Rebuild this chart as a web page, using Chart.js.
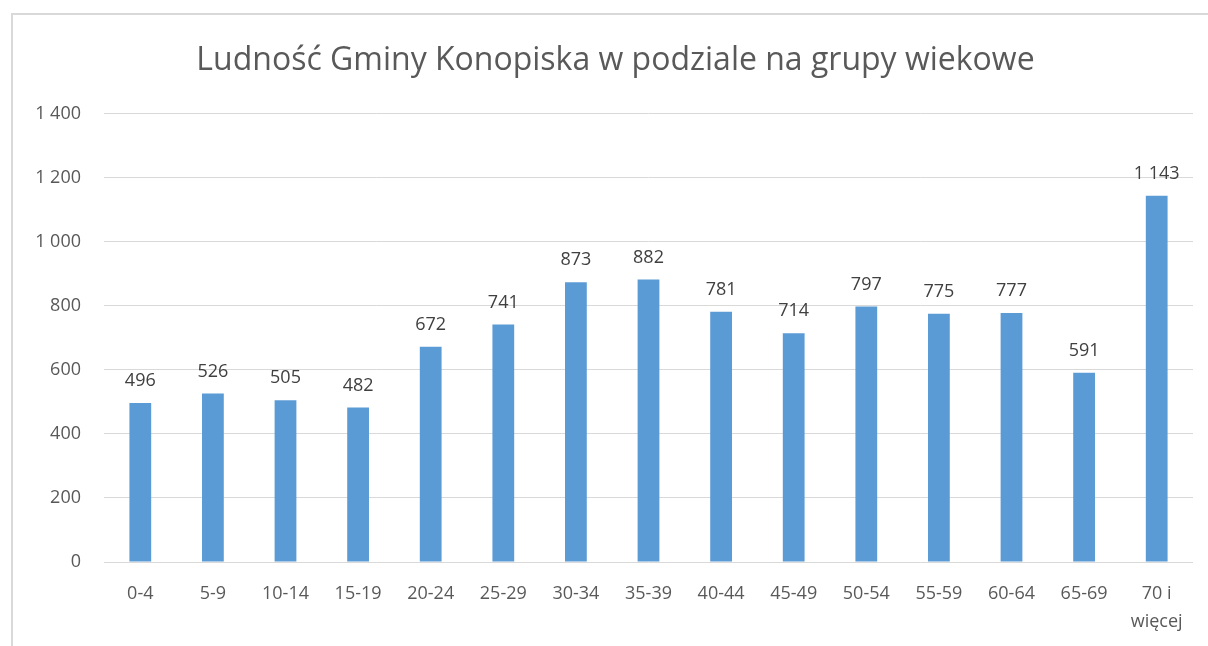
<!DOCTYPE html>
<html>
<head>
<meta charset="utf-8">
<script src="https://cdn.jsdelivr.net/npm/chart.js@4/dist/chart.umd.min.js"></script>
<style>
    html, body { margin: 0; padding: 0; background: #fff; overflow: hidden; }
    #frame { position: absolute; left: 11px; top: 13px; width: 1300px; height: 700px; border: 2px solid #d9d9d9; }
    #wrap { position: absolute; left: 0; top: 0; width: 1208px; height: 646px; }
</style>
</head>
<body>
<div id="frame"></div>
<div id="wrap"><canvas id="chart"></canvas></div>
<script>
    // Age groups and population counts
    const ageGroups = ['0-4', '5-9', '10-14', '15-19', '20-24', '25-29', '30-34', '35-39',
        '40-44', '45-49', '50-54', '55-59', '60-64', '65-69', ['70 i', 'więcej']];
    const population = [496, 526, 505, 482, 672, 741, 873, 882, 781, 714, 797, 775, 777, 591, 1143];
    const yTicks = [0, 200, 400, 600, 800, 1000, 1200, 1400];

    const fmt = v => String(v).replace(/\B(?=(\d{3})+(?!\d))/g, ' ');

    // Values above the bars
    const valueLabels = {
        id: 'valueLabels',
        afterLayout(chart) {
            // title is centred on the outer frame, not on the canvas
            chart.titleBlock.left += 19;
            chart.titleBlock.right += 19;
        },
        afterDatasetsDraw(chart) {
            const ctx = chart.ctx;
            ctx.save();
            ctx.font = '18px "Open Sans"';
            ctx.fillStyle = '#404040';
            ctx.textAlign = 'center';
            ctx.textBaseline = 'bottom';
            chart.getDatasetMeta(0).data.forEach((bar, i) => {
                ctx.fillText(fmt(population[i]), bar.x, bar.y - 13);
            });
            ctx.restore();
        }
    };

    new Chart(document.getElementById('chart'), {
        type: 'bar',
        data: {
            labels: ageGroups,
            datasets: [{
                data: population,
                backgroundColor: '#5b9bd5',
                categoryPercentage: 1,
                barPercentage: 0.3
            }]
        },
        options: {
            responsive: true,
            maintainAspectRatio: false,
            animation: false,
            layout: { padding: { left: 0, right: 15, top: 0, bottom: 0 } },
            plugins: {
                legend: { display: false },
                tooltip: { enabled: false },
                title: {
                    display: true,
                    text: 'Ludność Gminy Konopiska w podziale na grupy wiekowe',
                    color: '#595959',
                    font: { family: 'Open Sans', size: 32, weight: 'normal' },
                    padding: { top: 42, bottom: 33 }
                }
            },
            scales: {
                x: {
                    grid: { display: false },
                    border: { display: false },
                    ticks: {
                        color: '#595959',
                        font: { family: 'Open Sans', size: 18, lineHeight: 1.6 },
                        padding: 9,
                        maxRotation: 0,
                        autoSkip: false
                    },
                    afterFit(scale) { scale.height = 84; }
                },
                y: {
                    min: 0,
                    max: 1400,
                    afterBuildTicks(scale) { scale.ticks = yTicks.map(v => ({ value: v })); },
                    grid: { color: '#d9d9d9', drawTicks: false },
                    border: { display: false },
                    ticks: {
                        color: '#595959',
                        font: { family: 'Open Sans', size: 18 },
                        padding: 23,
                        callback: v => fmt(v)
                    },
                    afterFit(scale) { scale.width = 104; }
                }
            }
        },
        plugins: [valueLabels]
    });
</script>
</body>
</html>
